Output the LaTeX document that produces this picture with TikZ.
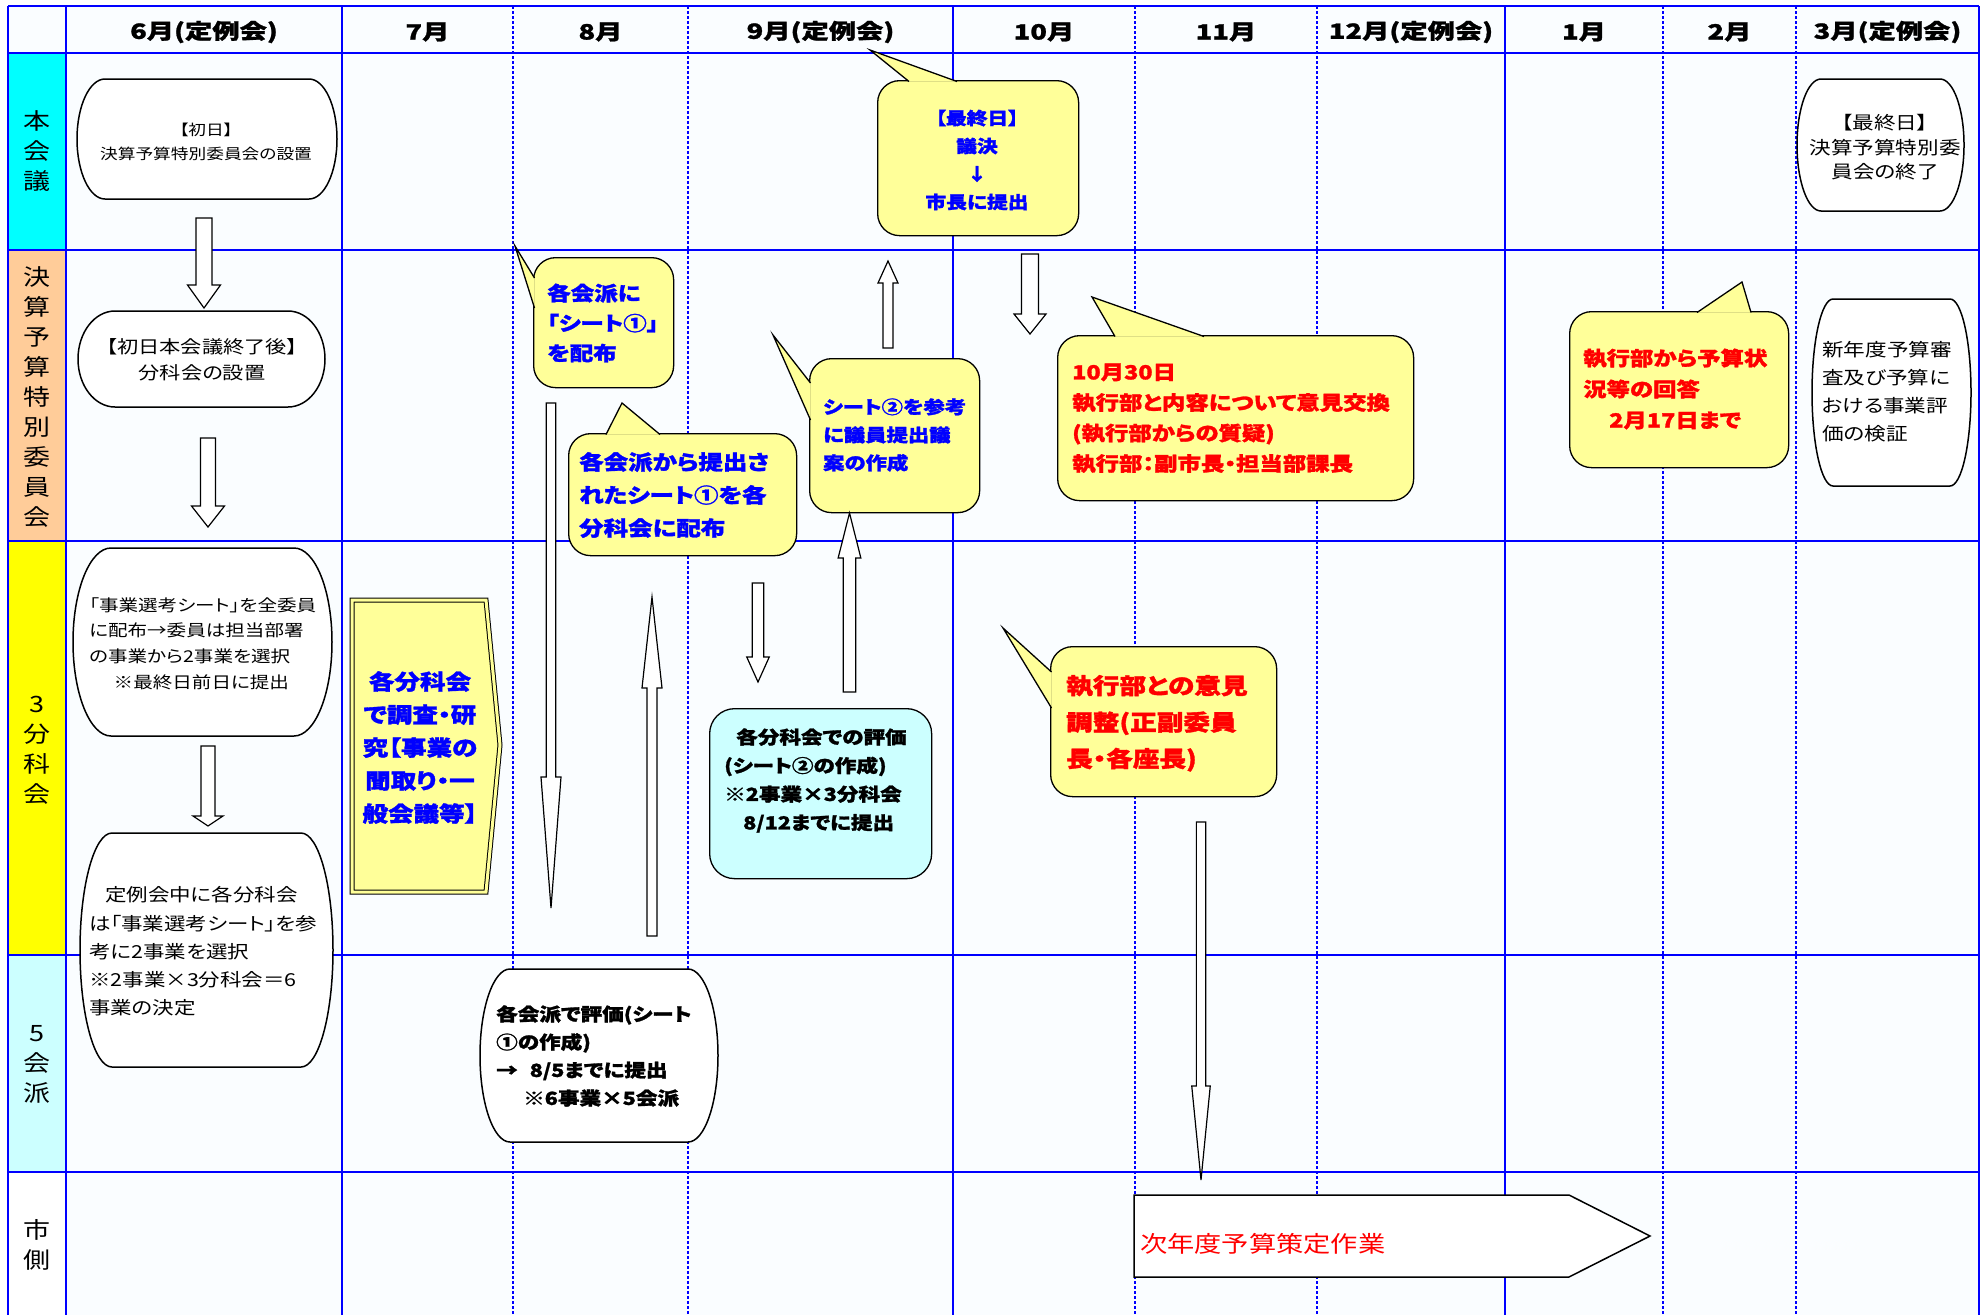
\documentclass[tikz,border=0pt]{standalone}
\usepackage{fontspec}
\newfontfamily\jp[FakeStretch=1.2,RawFeature=+palt,BoldFeatures={FakeBold=1.5}]{Noto Sans CJK JP}
\newfontfamily\jph[FakeStretch=1.3,BoldFeatures={FakeBold=1.2}]{Noto Sans CJK JP}
\newcommand\fs[2]{\fontsize{#1}{#2}\selectfont}
\definecolor{cellbg}{RGB}{250,253,255}
\definecolor{lycall}{RGB}{255,255,153}
\definecolor{lcyan}{RGB}{204,255,255}
\definecolor{peach}{RGB}{255,204,153}
\definecolor{aqua}{RGB}{0,255,255}
\definecolor{yel}{RGB}{255,255,0}
\definecolor{gblue}{RGB}{0,0,255}
\definecolor{tred}{RGB}{255,0,0}
\tikzset{
  gridsolid/.style={draw=gblue, line width=2.5pt},
  griddot/.style={draw=gblue, line width=2pt, dash pattern=on 2.5pt off 2.5pt},
  boxline/.style={draw=black, line width=1.5pt, fill=white},
  callbox/.style={draw=black, line width=1.3pt, fill=lycall, rounded corners=22pt, inner sep=0pt},
  ptrline/.style={draw=black, line width=1.3pt, line join=miter},
  barrowstyle/.style={draw=black, fill=white, line width=1.2pt, line join=miter},
  txt/.style={inner sep=0pt, align=left},
  hdr/.style={inner sep=0pt, font=\jph\bfseries\fs{21}{21}},
  lbl/.style={inner sep=0pt, align=center, font=\jp\fs{22.5}{30}},
}
\newcommand\termbox[6]{%
  \coordinate (#1) at ({(#2+#4)/2},{(#3+#5)/2});
  \draw[boxline] ({#2+#6},#3) -- ({#4-#6},#3)
    arc[start angle=90,end angle=-90,x radius=#6*1pt,y radius={(#5-#3)/2*1pt}]
    -- ({#2+#6},#5)
    arc[start angle=270,end angle=90,x radius=#6*1pt,y radius={(#5-#3)/2*1pt}]
    -- cycle;}
\newcommand\barrow[6]{%
  \draw[barrowstyle] ({#1-#5/2},#2) -- ({#1-#5/2},#3) -- ({#1-#6/2},#3) -- (#1,#4)
    -- ({#1+#6/2},#3) -- ({#1+#5/2},#3) -- ({#1+#5/2},#2) -- cycle;}
\newcommand\callrect[5]{%
  \node[callbox, anchor=north west, minimum width={#4-#2}, minimum height={#5-#3}] (#1) at (#2,#3) {};}
\newcommand\pointer[6]{%
  \fill[lycall] (#1,#2) -- (#3,#4) -- (#5,#6) -- cycle;
  \draw[ptrline] (#1,#2) -- (#3,#4) -- (#5,#6);}
\begin{document}
\begin{tikzpicture}[x=1pt,y=-1pt]
\useasboundingbox (0,0) rectangle (1986,1315);
\fill[white] (0,0) rectangle (1986,1315);
\fill[cellbg] (8,6) rectangle (1979,1315);
\fill[aqua] (8,53) rectangle (66,250);
\fill[peach] (8,250) rectangle (66,541);
\fill[yel] (8,541) rectangle (66,955);
\fill[lcyan] (8,955) rectangle (66,1172);
\fill[white] (8,1172) rectangle (66,1315);
\foreach \xx in {513,688,1135,1317,1663,1796} \draw[griddot] (\xx,6) -- (\xx,1315);
\foreach \xx in {8,66,342,953,1505,1979} \draw[gridsolid] (\xx,6) -- (\xx,1315);
\foreach \yy in {6,53,250,541,955,1172} \draw[gridsolid] (8,\yy) -- (1979,\yy);

% headers
\node[hdr] (h6) at (204,32) {6月(定例会)};
\node[hdr] (h7) at (427.5,32) {7月};
\node[hdr] (h8) at (600.5,32) {8月};
\node[hdr] (h9) at (820.5,32) {9月(定例会)};
\node[hdr] (h10) at (1044,32) {10月};
\node[hdr] (h11) at (1226,32) {11月};
\node[hdr] (h12) at (1411,32) {12月(定例会)};
\node[hdr] (h1) at (1584,32) {1月};
\node[hdr] (h2) at (1729.5,32) {2月};
\node[hdr] (h3) at (1887.5,32) {3月(定例会)};

% row labels
\node[lbl] (l1) at (37,151) {本\\会\\議};
\node[lbl] (l2) at (37,397) {決\\算\\予\\算\\特\\別\\委\\員\\会};
\node[lbl] (l3) at (37,750) {3\\分\\科\\会};
\node[lbl] (l4) at (37,1064) {5\\会\\派};
\node[lbl] (l5) at (37,1245) {市\\側};

% white boxes
\termbox{bA}{77}{79}{337}{199}{28}
\termbox{bB}{78}{311}{325}{407}{37}
\termbox{bC}{73}{548}{332}{736}{38}
\termbox{bD}{80}{833}{333}{1067}{32}
\termbox{bE}{1797}{79}{1964}{211}{24}
\termbox{bF}{1812}{299}{1971}{486}{21}
\termbox{bG}{480}{969}{718}{1142}{30}

\node[txt, align=center, font=\jp\fs{14.75}{24}] (tA) at (206,142) {【初日】\\決算予算特別委員会の設置};
\node[txt, align=center, font=\jp\fs{17.7}{26.5}] (tB) at (202,360) {【初日本会議終了後】\\分科会の設置};
\node[txt, anchor=west, font=\jp\fs{16.3}{25.7}] (tC) at (89,643.5) {「事業選考シート」を全委員\\に配布→委員は担当部署\\の事業から2事業を選択\\\hspace*{24.5pt}※最終日前日に提出};
\node[txt, anchor=west, font=\jp\fs{17.9}{28.2}] (tD) at (89,951.5) {\hspace*{16pt}定例会中に各分科会\\は「事業選考シート」を参\\考に2事業を選択\\※2事業×3分科会＝6\\事業の決定};
\node[txt, align=center, font=\jp\fs{18}{24.5}] (tE) at (1885,147.5) {【最終日】\\決算予算特別委\\員会の終了};
\node[txt, anchor=west, font=\jp\fs{18}{28}] (tF) at (1822,392) {新年度予算審\\査及び予算に\\おける事業評\\価の検証};
\node[txt, anchor=west, font=\jp\bfseries\fs{18}{28}] (tG) at (496,1056) {各会派で評価(シート\\①の作成)\\→\hspace{12pt}8/5までに提出\\\hspace*{27pt}※6事業×5会派};

% callouts
\callrect{c1}{877}{80}{1078}{235}
\pointer{909}{81.5}{870}{50}{957}{81.5}
\node[txt, align=center, text=gblue, font=\jp\bfseries\fs{17.3}{28}] (tc1) at (977,160) {【最終日】\\議決\\↓\\市長に提出};

\callrect{c2}{533}{257}{673}{387}
\pointer{534.5}{278}{515}{246}{534.5}{308}
\node[txt, anchor=west, text=gblue, font=\jp\bfseries\fs{19.6}{30}] (tc2) at (547,323) {各会派に\\「シート①」\\を配布};

\callrect{c3}{568}{433}{796}{555}
\pointer{606}{434.5}{622}{403}{660}{434.5}
\node[txt, anchor=west, text=gblue, font=\jp\bfseries\fs{20.4}{33}] (tc3) at (579,495) {各会派から提出さ\\れたシート①を各\\分科会に配布};

\callrect{c4}{809}{358}{979}{512}
\pointer{810.5}{383}{773}{335}{810.5}{420}
\node[txt, anchor=west, text=gblue, font=\jp\bfseries\fs{17.8}{28}] (tc4) at (823,435) {シート②を参考\\に議員提出議\\案の作成};

\callrect{c5}{1057}{335}{1413}{500}
\pointer{1115}{336.5}{1092}{297}{1204}{336.5}
\node[txt, anchor=west, text=tred, font=\jp\bfseries\fs{19.5}{30.5}] (tc5) at (1072,418.4) {10月30日\\執行部と内容について意見交換\\(執行部からの質疑)\\執行部：副市長・担当部課長};

\callrect{c6}{1569}{311}{1788}{467}
\pointer{1697}{312.5}{1742}{282}{1751}{312.5}
\node[txt, anchor=west, text=tred, font=\jp\bfseries\fs{19.5}{31}] (tc6) at (1583,389) {執行部から予算状\\況等の回答\\\hspace*{26pt}2月17日まで};

\callrect{c7}{1050}{646}{1276}{796}
\pointer{1051.5}{672}{1003}{628}{1051.5}{708}
\node[txt, anchor=west, text=tred, font=\jp\bfseries\fs{22.2}{36.5}] (tc7) at (1066,723.3) {執行部との意見\\調整(正副委員\\長・各座長)};

% study box (double border)
\draw[fill=lycall, draw=black, line width=1pt, double=lycall, double distance=3pt, line join=miter]
  (352,600) -- (486,600) -- (500,745) -- (486,892) -- (352,892) -- cycle;
\node[txt, align=center, text=gblue, font=\jp\bfseries\fs{21.3}{33}] (tc8) at (420,747.5) {各分科会\\で調査・研\\究【事業の\\聞取り・一\\般会議等】};

% evaluation box
\node[draw=black, line width=1.3pt, fill=lcyan, rounded corners=25pt, inner sep=0pt, anchor=north west, minimum width=222, minimum height=170] (c9) at (709,708) {};
\node[txt, anchor=west, font=\jp\bfseries\fs{18}{28.5}] (tc9) at (724,780.5) {\hspace*{12pt}各分科会での評価\\(シート②の作成)\\※2事業×3分科会\\\hspace*{19pt}8/12までに提出};

% city arrow
\draw[draw=black, line width=1.5pt, fill=white, line join=miter]
  (1134,1195) -- (1569,1195) -- (1650,1236) -- (1569,1277) -- (1134,1277) -- cycle;
\node[txt, anchor=west, text=tred, font=\jp\fs{22.7}{26}] (tc10) at (1140,1244) {次年度予算策定作業};

% block arrows
\barrow{204}{218}{285}{308}{16}{33}
\barrow{208}{438}{506}{527}{15}{33}
\barrow{208}{746}{816}{826}{14}{30}
\barrow{551}{403}{777}{908}{9.5}{20}
\barrow{652}{936}{688}{597}{10}{20}
\barrow{758}{583}{657}{682}{11.5}{22.5}
\barrow{849.5}{692}{558}{513}{12.4}{22.7}
\barrow{888}{348}{283}{261}{10}{20}
\barrow{1030}{254}{314}{334}{17}{32}
\barrow{1201}{822}{1086}{1180}{9.3}{18.5}
\end{tikzpicture}
\end{document}
